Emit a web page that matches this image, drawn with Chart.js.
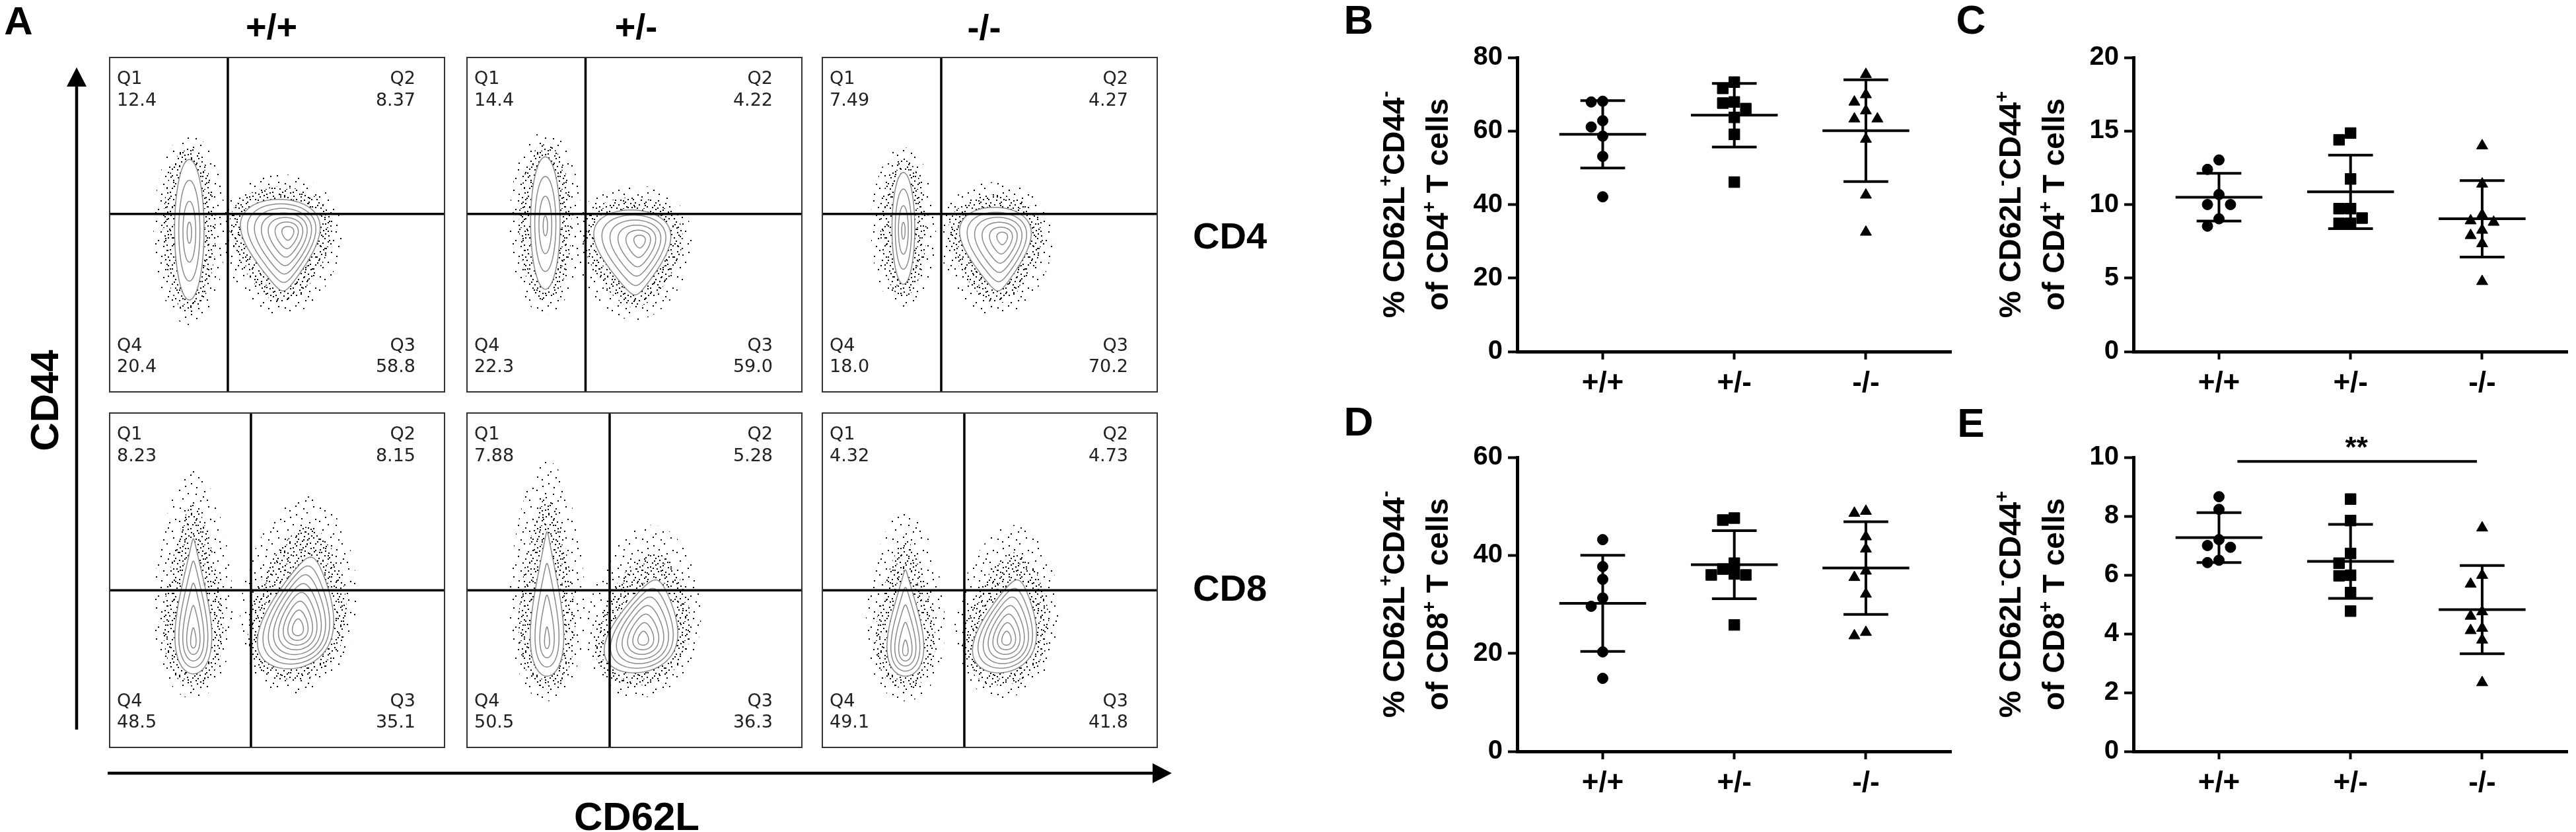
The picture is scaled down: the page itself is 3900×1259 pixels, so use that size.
<!DOCTYPE html>
<html>
<head>
<meta charset="utf-8">
<title>CD62L / CD44 subsets of CD4 and CD8 T cells</title>
<script src="https://cdn.jsdelivr.net/npm/chart.js@4.4.1/dist/chart.umd.min.js"></script>
<style>
  body { margin: 0; background: #fff; }
  #fig { position: relative; width: 3900px; height: 1259px; overflow: hidden; background: #fff; }
  canvas { position: absolute; }
  .t { position: absolute; font-family: "Liberation Sans", Arial, sans-serif; font-weight: bold; color: #000;
       line-height: 1; white-space: nowrap; transform: translate(-50%, -50%); }
  .rot { transform: translate(-50%, -50%) rotate(-90deg); }
  .lft { transform: translate(0, -50%); }
</style>
</head>
<body>
<div id="fig">
  <div class="t" style="left:28px;top:32px;font-size:60px">A</div>
  <div class="t" style="left:411px;top:40px;font-size:54px">+/+</div>
  <div class="t" style="left:963px;top:40px;font-size:54px">+/-</div>
  <div class="t" style="left:1490px;top:41px;font-size:54px">-/-</div>
  <div class="t lft" style="left:1806px;top:357px;font-size:56px">CD4</div>
  <div class="t lft" style="left:1806px;top:890px;font-size:56px">CD8</div>
  <div class="t rot" style="left:68px;top:606px;font-size:60px">CD44</div>
  <div class="t" style="left:964px;top:1236px;font-size:60px">CD62L</div>
  <div class="t" style="left:2057px;top:30px;font-size:62px">B</div>
  <div class="t" style="left:2984px;top:30px;font-size:62px">C</div>
  <div class="t" style="left:2057px;top:638px;font-size:62px">D</div>
  <div class="t" style="left:2984px;top:640px;font-size:62px">E</div>
  <svg width="3900" height="1259" style="position:absolute;left:0;top:0">
    <line x1="116" y1="1104" x2="116" y2="126" stroke="#000" stroke-width="4.5"/>
    <polygon points="116,102 101,131 131,131" fill="#000"/>
    <line x1="163" y1="1170" x2="1750" y2="1170" stroke="#000" stroke-width="4.5"/>
    <polygon points="1774,1170 1745,1155 1745,1185" fill="#000"/>
  </svg>
</div>
<script>
// ---------- data ----------
const groups = ['+/+', '+/-', '-/-'];

// Panel A: quadrant frequencies, [CD4 row, CD8 row][group]
const q1Freq = [[12.4, 14.4, 7.49], [8.23, 7.88, 4.32]];
const q2Freq = [[8.37, 4.22, 4.27], [8.15, 5.28, 4.73]];
const q3Freq = [[58.8, 59.0, 70.2], [35.1, 36.3, 41.8]];
const q4Freq = [[20.4, 22.3, 18.0], [48.5, 50.5, 49.1]];
// quadrant gates (plot units 0-100)
const gateX = [[35.3, 35.4, 35.5], [42.2, 42.6, 42.4]];
const gateY = [[53.2, 53.2, 53.2], [47.0, 47.0, 47.0]];
// cell populations per group: [CD62L-low, CD62L-high]
const cd4PopX = [[23.8, 51.2], [23.4, 49.6], [24.2, 51.9]];
const cd4PopY = [[48.5, 43.9], [50.5, 41.7], [48.9, 42.7]];
const cd4SpreadX = [[4.4, 11.9], [4.4, 11.5], [3.4, 10.7]];
const cd4SpreadY = [[21.0, 13.7], [19.8, 12.7], [16.7, 12.5]];
const cd8PopX = [[25.0, 56.7], [23.9, 53.1], [24.8, 55.4]];
const cd8PopY = [[42.2, 40.2], [42.9, 36.2], [37.2, 36.2]];
const cd8SpreadX = [[5.5, 11.1], [5.0, 10.7], [5.5, 9.3]];
const cd8SpreadY = [[20.2, 16.7], [21.6, 13.9], [15.9, 13.9]];

// B: % CD62L+CD44- of CD4+
const bWT  = [67.9, 68.1, 62.8, 61.1, 58.6, 53.1, 42.1];
const bHet = [73.3, 71.6, 67.9, 67.6, 66.1, 63.7, 59.1, 46.1];
const bKO  = [75.4, 69.9, 67.9, 65.5, 63.3, 63.3, 57.8, 42.6, 32.5];
const bMean = [59.1, 64.3, 60.1];
const bSD   = [9.15, 8.65, 13.85];
// C: % CD62L-CD44+ of CD4+
const cWT  = [13.03, 12.39, 10.68, 10.0, 10.0, 9.03, 8.53];
const cHet = [14.86, 14.4, 11.74, 9.72, 9.72, 9.08, 8.72, 8.72];
const cKO  = [14.0, 11.4, 9.3, 8.9, 8.8, 8.26, 7.9, 7.34, 4.77];
const cMean = [10.5, 10.86, 9.03];
const cSD   = [1.62, 2.5, 2.6];
// D: % CD62L+CD44- of CD8+
const dWT  = [43.2, 37.7, 35.1, 31.3, 29.6, 20.3, 14.9];
const dHet = [47.2, 47.6, 38.4, 36.0, 37.2, 36.0, 36.2, 25.8];
const dKO  = [48.6, 49.0, 43.8, 41.3, 36.8, 35.5, 32.1, 23.6, 24.3];
const dMean = [30.2, 38.1, 37.4];
const dSD   = [9.8, 6.95, 9.45];
// E: % CD62L-CD44+ of CD8+
const eWT  = [8.66, 8.23, 7.2, 6.94, 7.0, 6.42, 6.5];
const eHet = [8.58, 7.85, 6.73, 6.4, 5.97, 5.99, 5.4, 4.77];
const eKO  = [7.6, 5.99, 5.69, 4.75, 4.6, 4.19, 4.11, 3.79, 2.34];
const eMean = [7.27, 6.46, 4.82];
const eSD   = [0.85, 1.26, 1.5];
const eSig = { from: 0, to: 2, y: 9.86, label: '**' };

// ---------- helpers ----------
const FONT = '"Liberation Sans", Arial, sans-serif';
const fig = document.getElementById('fig');

function addCanvas(left, top, w, h) {
  const c = document.createElement('canvas');
  c.width = w; c.height = h;
  c.style.left = left + 'px'; c.style.top = top + 'px';
  c.style.width = w + 'px'; c.style.height = h + 'px';
  fig.appendChild(c);
  return c;
}

// ---------- panel A: flow plots ----------
const boxLeft = [166, 707, 1245], boxTop = [87, 625];
const BOX_W = 507, BOX_H = 506, PAD = 3;

// contour shapes: taper > 0 wide top, < 0 narrow top; peak = densest point
const popShape = [
  [{ taper: 0, lean: 0, peakX: 0, peakY: 0.05 }, { taper: 0.6, lean: -0.05, peakX: 0.2, peakY: -0.3 }],
  [{ taper: -0.75, lean: 0, peakX: 0, peakY: 0.55 }, { taper: -0.5, lean: 0.3, peakX: -0.05, peakY: 0.3 }]
];
const haloStyle = [{ x: 32, y: 38, lift: 0 }, { x: 32, y: 38, lift: 0.32 }];

function stippleTile(w, h, dots) {
  const c = document.createElement('canvas');
  c.width = w; c.height = h;
  const g = c.getContext('2d');
  g.fillStyle = '#000';
  dots.forEach(([x, y]) => g.fillRect(x, y, 2, 2));
  return c;
}
const sparseTile = stippleTile(53, 47, [[3, 5], [11, 19], [19, 2], [27, 31], [36, 12], [44, 40], [49, 22],
  [7, 38], [23, 44], [31, 6], [40, 27], [15, 30], [46, 3], [2, 25], [34, 41], [20, 15], [10, 9], [38, 35], [28, 21]]);
const denseTile = stippleTile(31, 29, [[1, 3], [6, 14], [11, 6], [15, 22], [20, 1], [24, 11], [27, 25], [4, 26],
  [9, 19], [18, 15], [22, 28], [28, 4], [13, 10], [2, 9], [25, 18], [16, 3], [7, 23], [19, 8], [29, 14], [12, 27], [23, 20]]);

function taperNorm(t) {
  let m = 0;
  for (let v = -1; v <= 1; v += 0.02) m = Math.max(m, Math.sqrt(Math.max(0, 1 - v * v)) * (1 - t * v));
  return m;
}

function popPath(ctx, cx, cy, rx, ry, taper, lean) {
  const r = rx / taperNorm(taper);
  ctx.beginPath();
  for (let i = 0; i < 120; i++) {
    const a = i / 120 * 2 * Math.PI, u = Math.cos(a), v = Math.sin(a);
    const px = cx + r * u * (1 - taper * v) - rx * lean * v;
    const py = cy + ry * v;
    if (i) ctx.lineTo(px, py); else ctx.moveTo(px, py);
  }
  ctx.closePath();
}

const fmt = v => (v < 10 ? v.toFixed(2) : v.toFixed(1));

const flowPlugin = {
  id: 'flowPlot',
  beforeDatasetsDraw(chart, args, o) {
    const { ctx, chartArea: a, scales: { x, y } } = chart;
    const sparse = ctx.createPattern(sparseTile, 'repeat');
    const dense = ctx.createPattern(denseTile, 'repeat');
    const pops = o.pops.map(p => {
      const cx = x.getPixelForValue(p.x), cy = y.getPixelForValue(p.y);
      return Object.assign({ cx, cy,
        rx: x.getPixelForValue(p.x + p.sx) - cx,
        ry: cy - y.getPixelForValue(p.y + p.sy) }, p.shape);
    });
    const h = o.halo;
    ctx.save();
    ctx.beginPath(); ctx.rect(a.left, a.top, a.width, a.height); ctx.clip();
    ctx.fillStyle = sparse;
    pops.forEach(p => { popPath(ctx, p.cx, p.cy - h.lift * p.ry, p.rx + h.x, p.ry * (1 + h.lift) + h.y, p.taper * 0.3, p.lean * 0.4); ctx.fill(); });
    ctx.fillStyle = dense;
    pops.forEach(p => { popPath(ctx, p.cx, p.cy - h.lift * 0.5 * p.ry, p.rx + h.x * 0.55, p.ry * (1 + h.lift * 0.5) + h.y * 0.5, p.taper * 0.6, p.lean * 0.6); ctx.fill(); });
    pops.forEach(p => {
      ctx.fillStyle = '#fff';
      popPath(ctx, p.cx, p.cy, p.rx, p.ry, p.taper, p.lean); ctx.fill();
      const pkx = p.cx + p.peakX * p.rx, pky = p.cy + p.peakY * p.ry;
      const n = Math.max(4, Math.min(9, Math.round(Math.min(p.rx, p.ry * 0.6) / 6)));
      ctx.strokeStyle = '#8a8a8a'; ctx.lineWidth = 1.5;
      for (let j = 0; j < n; j++) {
        const k = 1 - j * (0.85 / (n - 1));
        popPath(ctx, pkx + (p.cx - pkx) * k, pky + (p.cy - pky) * k, p.rx * k, p.ry * k,
                p.taper * (0.5 + 0.5 * k), p.lean * k);
        ctx.stroke();
      }
    });
    ctx.restore();
  },
  afterDatasetsDraw(chart, args, o) {
    const { ctx, chartArea: a } = chart;
    ctx.save();
    ctx.strokeStyle = '#333'; ctx.lineWidth = 2;
    ctx.strokeRect(a.left, a.top, a.width, a.height);
    ctx.font = '27px "DejaVu Sans", Verdana, sans-serif';
    ctx.fillStyle = '#222'; ctx.textBaseline = 'middle';
    ctx.textAlign = 'left';
    ctx.fillText('Q1', a.left + 11, a.top + 33); ctx.fillText(fmt(o.q[0]), a.left + 11, a.top + 66);
    ctx.fillText('Q4', a.left + 11, a.bottom - 69); ctx.fillText(fmt(o.q[3]), a.left + 11, a.bottom - 37);
    ctx.textAlign = 'right';
    ctx.fillText('Q2', a.right - 44, a.top + 33); ctx.fillText(fmt(o.q[1]), a.right - 44, a.top + 66);
    ctx.fillText('Q3', a.right - 44, a.bottom - 69); ctx.fillText(fmt(o.q[2]), a.right - 44, a.bottom - 37);
    ctx.restore();
  }
};

function makeFlow(row, col) {
  const canvas = addCanvas(boxLeft[col] - PAD, boxTop[row] - PAD, BOX_W + 2 * PAD, BOX_H + 2 * PAD);
  const px = row ? cd8PopX : cd4PopX, py = row ? cd8PopY : cd4PopY;
  const sx = row ? cd8SpreadX : cd4SpreadX, sy = row ? cd8SpreadY : cd4SpreadY;
  const pops = [0, 1].map(s => ({ x: px[col][s], y: py[col][s], sx: sx[col][s], sy: sy[col][s], shape: popShape[row][s] }));
  const gx = gateX[row][col], gy = gateY[row][col];
  const line = { showLine: true, borderColor: '#000', borderWidth: 3.5, pointRadius: 0 };
  new Chart(canvas, {
    type: 'scatter',
    data: { datasets: [
      Object.assign({ data: [{ x: gx, y: 0 }, { x: gx, y: 100 }] }, line),
      Object.assign({ data: [{ x: 0, y: gy }, { x: 100, y: gy }] }, line)
    ] },
    options: {
      responsive: false, animation: false, devicePixelRatio: 1, events: [],
      layout: { padding: PAD },
      scales: { x: { display: false, min: 0, max: 100 }, y: { display: false, min: 0, max: 100 } },
      plugins: {
        legend: { display: false }, tooltip: { enabled: false },
        flowPlot: { pops, halo: haloStyle[row],
          q: [q1Freq[row][col], q2Freq[row][col], q3Freq[row][col], q4Freq[row][col]] }
      }
    },
    plugins: [flowPlugin]
  });
}
for (let r = 0; r < 2; r++) for (let c = 0; c < 3; c++) makeFlow(r, c);

// ---------- panels B-E: scatter dot plots ----------
const MARK = 16;              // marker size in px, for spreading overlapping points
const SLOT = 17.5 / 200;      // horizontal spacing of points, in category units
const PLOT_H = 445, AXIS_W = 260, AXIS_H = 100, TOP_PAD = 60, RIGHT_PAD = 10;

function swarm(values, pxPerUnit) {
  const order = values.map((v, i) => i).sort((a, b) => values[b] - values[a]);
  const slot = new Array(values.length).fill(0), placed = [];
  order.forEach(i => {
    for (const k of [0, -1, 1, -2, 2, -3, 3]) {
      const hit = placed.some(j => slot[j] === k && Math.abs(values[j] - values[i]) * pxPerUnit < MARK);
      if (!hit) { slot[i] = k; break; }
    }
    placed.push(i);
  });
  return slot.map(k => k * SLOT);
}

const naiveTitle = [['% CD62L', 0], ['+', 1], ['CD44', 0], ['-', 1]];
const memTitle = [['% CD62L', 0], ['-', 1], ['CD44', 0], ['+', 1]];
const ofCD4 = [['of CD4', 0], ['+', 1], [' T cells', 0]];
const ofCD8 = [['of CD8', 0], ['+', 1], [' T cells', 0]];

function drawRich(ctx, segs, cx, cy, size) {
  const big = `bold ${size}px ${FONT}`, small = `bold ${Math.round(size * 0.62)}px ${FONT}`;
  const widths = segs.map(([t, sup]) => { ctx.font = sup ? small : big; return ctx.measureText(t).width; });
  const total = widths.reduce((s, w) => s + w, 0);
  ctx.save();
  ctx.translate(cx, cy); ctx.rotate(-Math.PI / 2);
  ctx.fillStyle = '#000'; ctx.textBaseline = 'alphabetic'; ctx.textAlign = 'left';
  let x = -total / 2;
  const base = size * 0.36;
  segs.forEach(([t, sup], i) => {
    ctx.font = sup ? small : big;
    ctx.fillText(t, x, sup ? base - size * 0.4 : base);
    x += widths[i];
  });
  ctx.restore();
}

const dotPlugin = {
  id: 'dotPlot',
  afterDatasetsDraw(chart, args, o) {
    const { ctx, scales: { x, y } } = chart;
    ctx.save();
    ctx.strokeStyle = '#000'; ctx.lineWidth = 4;
    const hline = (x0, x1, v) => {
      ctx.beginPath();
      ctx.moveTo(x.getPixelForValue(x0), y.getPixelForValue(v));
      ctx.lineTo(x.getPixelForValue(x1), y.getPixelForValue(v));
      ctx.stroke();
    };
    o.mean.forEach((m, i) => {
      const sd = o.sd[i];
      hline(i - 0.33, i + 0.33, m);
      hline(i - 0.17, i + 0.17, m + sd);
      hline(i - 0.17, i + 0.17, m - sd);
      ctx.beginPath();
      ctx.moveTo(x.getPixelForValue(i), y.getPixelForValue(m + sd));
      ctx.lineTo(x.getPixelForValue(i), y.getPixelForValue(m - sd));
      ctx.stroke();
    });
    if (o.sig) {
      hline(o.sig.from + 0.14, o.sig.to - 0.04, o.sig.y);
      ctx.fillStyle = '#000'; ctx.font = `bold 44px ${FONT}`;
      ctx.textAlign = 'center'; ctx.textBaseline = 'alphabetic';
      ctx.fillText(o.sig.label, x.getPixelForValue((o.sig.from + o.sig.to) / 2 + 0.045), y.getPixelForValue(o.sig.y) - 6);
    }
    ctx.restore();
  },
  afterDraw(chart, args, o) {
    const { ctx, chartArea: a } = chart;
    const cy = (a.top + a.bottom) / 2;
    drawRich(ctx, o.title[0], a.left - 188, cy, 46);
    drawRich(ctx, o.title[1], a.left - 122, cy, 46);
  }
};

const pointStyles = ['circle', 'rect', 'triangle'];
const pointRadii = [8, 11.6, 9.8];

function makeDot(left, top, yMax, step, series, mean, sd, title, sig) {
  const w = AXIS_W + 660 + RIGHT_PAD, h = TOP_PAD + PLOT_H + AXIS_H;
  const canvas = addCanvas(left - AXIS_W, top - TOP_PAD, w, h);
  const tickFont = { family: FONT, size: 40, weight: 'bold' };
  new Chart(canvas, {
    type: 'scatter',
    data: {
      datasets: series.map((vals, g) => {
        const off = swarm(vals, PLOT_H / yMax);
        return {
          data: vals.map((v, i) => ({ x: g + off[i], y: v })),
          pointStyle: pointStyles[g], pointRadius: pointRadii[g],
          backgroundColor: '#000', borderColor: '#000', borderWidth: 1
        };
      })
    },
    options: {
      responsive: false, animation: false, devicePixelRatio: 1, events: [],
      layout: { padding: { top: TOP_PAD, right: RIGHT_PAD, left: 0, bottom: 0 } },
      scales: {
        x: {
          type: 'linear', min: -0.65, max: 2.65,
          afterBuildTicks: s => { s.ticks = groups.map((g, i) => ({ value: i })); },
          afterFit: s => { s.height = AXIS_H; },
          ticks: { callback: v => groups[v], font: { family: FONT, size: 44, weight: 'bold' }, color: '#000', padding: 10, autoSkip: false, maxRotation: 0 },
          grid: { display: true, drawOnChartArea: false, drawTicks: true, tickLength: 12, tickWidth: 4, tickColor: '#000' },
          border: { display: true, color: '#000', width: 5 }
        },
        y: {
          min: 0, max: yMax,
          afterFit: s => { s.width = AXIS_W; },
          ticks: { stepSize: step, font: tickFont, color: '#000', padding: 8 },
          grid: { display: true, drawOnChartArea: false, drawTicks: true, tickLength: 14, tickWidth: 4, tickColor: '#000' },
          border: { display: true, color: '#000', width: 5 }
        }
      },
      plugins: {
        legend: { display: false }, tooltip: { enabled: false },
        dotPlot: { mean, sd, title, sig }
      }
    },
    plugins: [dotPlugin]
  });
}

makeDot(2297, 87, 80, 20, [bWT, bHet, bKO], bMean, bSD, [naiveTitle, ofCD4], null);
makeDot(3230, 87, 20, 5, [cWT, cHet, cKO], cMean, cSD, [memTitle, ofCD4], null);
makeDot(2297, 692, 60, 20, [dWT, dHet, dKO], dMean, dSD, [naiveTitle, ofCD8], null);
makeDot(3230, 692, 10, 2, [eWT, eHet, eKO], eMean, eSD, [memTitle, ofCD8], eSig);
</script>
</body>
</html>
